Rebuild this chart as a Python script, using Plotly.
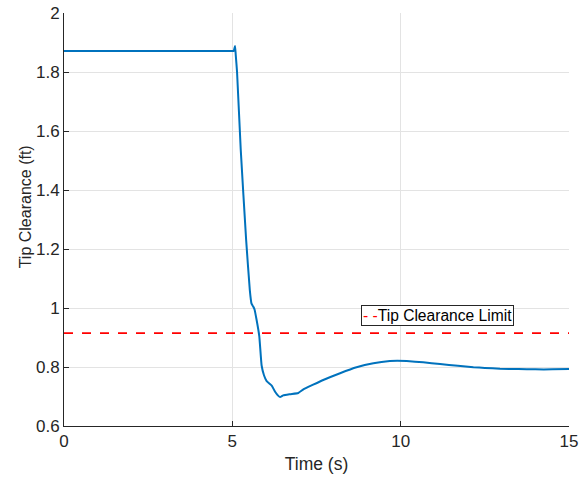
import plotly.graph_objects as go

time_s = [0, 1, 2, 3, 4, 5.0, 5.04, 5.08, 5.1, 5.14, 5.25, 5.41, 5.52, 5.57, 5.62, 5.66, 5.72, 5.80,
          5.87, 5.94, 6.02, 6.17, 6.27, 6.36, 6.42, 6.51, 6.71, 6.96, 7.11, 7.40, 7.70, 8.20, 8.69,
          9.19, 9.68, 9.90, 10.18, 10.67, 11.17, 11.70, 12.16, 12.50, 12.95, 13.50, 14.00, 14.50, 15.0]
clearance_ft = [1.871, 1.871, 1.871, 1.871, 1.871, 1.871, 1.871, 1.888, 1.86, 1.80, 1.536, 1.231, 1.06, 1.015, 1.005, 0.995, 0.96, 0.905,
                0.805, 0.772, 0.752, 0.737, 0.716, 0.703, 0.698, 0.704, 0.708, 0.712, 0.724, 0.740, 0.756, 0.779, 0.799,
                0.8125, 0.820, 0.821, 0.820, 0.816, 0.810, 0.804, 0.799, 0.797, 0.794, 0.793, 0.792, 0.792, 0.793]

limit_time = [0, 15]
limit_value = [0.915, 0.915]
limit_label = "Tip Clearance Limit"

x_ticks = [0, 5, 10, 15]
y_ticks = [0.6, 0.8, 1.0, 1.2, 1.4, 1.6, 1.8, 2.0]
y_tick_text = ["0.6", "0.8", "1", "1.2", "1.4", "1.6", "1.8", "2"]

font = "Liberation Sans, Arial, Helvetica, sans-serif"
axis_color = "#262626"
grid_color = "#e3e3e3"

fig = go.Figure()
fig.add_trace(go.Scatter(x=time_s, y=clearance_ft, mode="lines",
                         line=dict(color="#0072BD", width=2, shape="spline", smoothing=0.4),
                         showlegend=False))
fig.add_trace(go.Scatter(x=limit_time, y=limit_value, mode="lines", name=limit_label,
                         line=dict(color="#FF0000", width=1.8, dash="dash"), showlegend=False))

# compact MATLAB-style legend box
fig.add_annotation(xref="paper", yref="paper", x=0.588, y=0.292, xanchor="left", yanchor="top",
                   text="<span style='color:#FF0000'>- -</span>" + limit_label, showarrow=False,
                   font=dict(size=15.6, color="black", family=font), align="left",
                   bgcolor="white", bordercolor=axis_color, borderwidth=1, borderpad=1)

# y axis label
fig.add_annotation(xref="paper", yref="paper", x=-0.076, y=0.531, xanchor="center", yanchor="middle",
                   text="Tip Clearance (ft)", textangle=-90, showarrow=False,
                   font=dict(size=16, color=axis_color, family=font))

fig.update_layout(
    width=587, height=480,
    margin=dict(l=64, r=18, t=13, b=54),
    paper_bgcolor="white", plot_bgcolor="white",
    font=dict(family=font, size=16, color=axis_color),
    showlegend=False,
    xaxis=dict(range=[0, 15], tickvals=x_ticks, ticks="inside", ticklen=5, tickcolor=axis_color,
               showline=True, linecolor=axis_color, linewidth=1, showgrid=True, gridcolor=grid_color,
               zeroline=False, automargin=False, tickfont=dict(size=17),
               title=dict(text="Time (s)", font=dict(size=17.5), standoff=7)),
    yaxis=dict(range=[0.6, 2.0], tickvals=y_ticks, ticktext=y_tick_text,
               ticks="inside", ticklen=5, tickcolor=axis_color,
               showline=True, linecolor=axis_color, linewidth=1, showgrid=True, gridcolor=grid_color,
               zeroline=False, automargin=False, tickfont=dict(size=17)),
)

fig.write_html("out.html")
